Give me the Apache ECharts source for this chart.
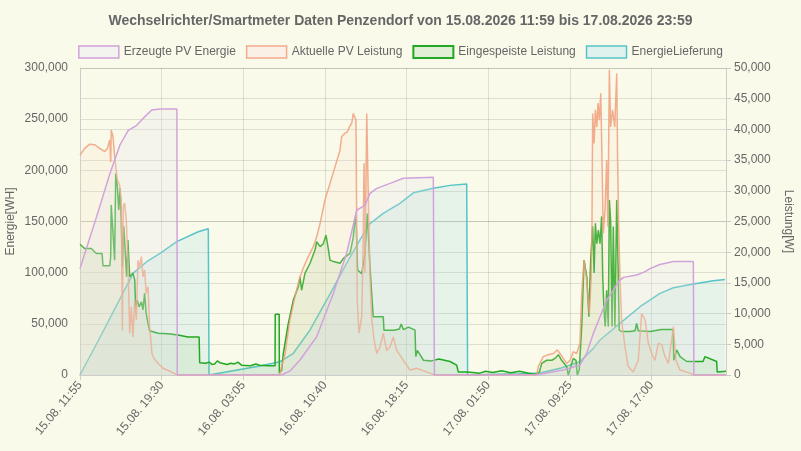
<!DOCTYPE html>
<html>
<head>
<meta charset="utf-8">
<script src="https://cdn.jsdelivr.net/npm/echarts@6/dist/echarts.min.js"></script>
<style>
html,body{margin:0;padding:0;background:#fafaeb;}
#chart{width:801px;height:451px;}
</style>
</head>
<body>
<div id="chart"></div>
<script>
// x values: minutes since 15.08.2026 11:55
const startMinuteOfDay = 11 * 60 + 55;
const startDay = 15;
const totalMinutes = 3600;

const seriesNames = ['Erzeugte PV Energie', 'Aktuelle PV Leistung', 'Eingespeiste Leistung', 'EnergieLieferung'];

// Erzeugte PV Energie [WH] (left axis)
const pvEnergy = [
  [0,104000],[93,155000],[167,197000],[223,225000],[269,239000],[316,244000],[353,251000],[400,259000],[446,260000],[540,260000],[542,0],
  [1124,0],[1170,4000],[1226,14700],[1319,37400],[1412,79800],[1486,119000],[1542,161000],[1588,166000],[1616,177500],[1654,182400],[1728,187300],[1802,192200],[1969,193200],[1975,0],
  [2540,0],[2600,2000],[2692,4900],[2786,9800],[2824,21200],[2861,40700],[2898,57000],[2935,73300],[2972,83000],[3000,91200],[3028,95400],[3102,97700],[3149,101000],[3176,104000],[3232,108000],[3307,111000],[3418,111000],[3421,0],[3600,0]
];

// EnergieLieferung [WH] (left axis)
const energyDelivery = [
  [0,0],[100,33000],[186,62000],[260,87000],[297,99500],[372,110700],[446,118900],[539,130300],[659,140000],[715,143000],[719,0],
  [725,800],[1003,8800],[1115,13000],[1189,21200],[1282,44000],[1375,73300],[1486,109000],[1560,132000],[1616,148000],[1690,158000],[1783,167800],[1858,178000],[1969,182400],[2062,185300],[2155,186600],[2160,0],
  [2165,0],[2450,1200],[2564,2000],[2675,6500],[2786,13000],[2861,26000],[2898,34200],[3009,50500],[3121,66700],[3232,79800],[3307,85300],[3418,88900],[3529,92100],[3594,93400]
];

// Aktuelle PV Leistung [W] (right axis)
const pvPower = [
  [0,35800],[4,36100],[26,36900],[54,37600],[82,37500],[110,36900],[138,36400],[152,36900],[166,38300],[171,34700],[174,39900],[184,38800],[193,35600],[208,31800],[221,30900],[230,28500],[236,7300],[241,27400],[249,28000],[258,25200],[267,18700],[277,6800],[286,11100],[295,6200],[305,12200],[314,9000],[323,18700],[333,17600],[342,19300],[351,16000],[360,17100],[369,13300],[379,14400],[388,7900],[401,3500],[412,2700],[435,1900],[463,1100],[509,500],[542,0],
  [1110,0],[1115,400],[1143,3500],[1170,9000],[1198,12800],[1226,16000],[1244,17400],[1263,18700],[1300,20900],[1319,22500],[1338,24700],[1365,28500],[1393,31200],[1421,33900],[1449,36600],[1458,38800],[1477,39400],[1490,39600],[1501,40400],[1514,41000],[1523,42600],[1533,42600],[1538,41500],[1545,12200],[1555,6800],[1570,9500],[1577,20000],[1583,34500],[1588,16600],[1598,42600],[1607,28500],[1616,16000],[1626,9000],[1640,5500],[1654,3500],[1672,4600],[1690,6800],[1709,4000],[1728,4600],[1746,6200],[1765,4000],[1802,2400],[1839,800],[1876,1100],[1950,300],[1978,0],
  [2545,0],[2554,1400],[2582,3000],[2610,3300],[2638,3500],[2660,4100],[2675,3500],[2693,2700],[2712,1900],[2731,2400],[2749,3800],[2768,3500],[2786,5200],[2796,13300],[2809,18700],[2824,15500],[2838,10000],[2848,15500],[2853,24200],[2857,42600],[2865,37700],[2872,43200],[2880,40400],[2887,44300],[2894,41500],[2902,45900],[2909,35000],[2916,23100],[2926,26900],[2935,35000],[2942,24200],[2950,49700],[2957,40400],[2968,43200],[2980,40400],[2991,49100],[2996,35000],[3002,24200],[3009,16000],[3018,9000],[3037,4600],[3055,1400],[3083,500],[3111,2400],[3130,10000],[3149,9000],[3167,5200],[3186,3500],[3204,2400],[3223,5200],[3242,4900],[3260,3000],[3279,1900],[3307,7900],[3321,2400],[3344,800],[3399,300],[3418,0],[3600,0]
];

// Eingespeiste Leistung [W] (right axis)
const feedIn = [
  [0,21300],[26,20600],[63,20600],[91,19800],[123,19800],[128,17800],[166,17800],[171,19300],[174,27700],[184,23100],[193,18700],[199,32800],[208,30700],[216,26900],[223,30400],[230,25200],[236,17600],[244,24200],[252,24200],[260,16000],[267,22000],[277,16000],[286,16000],[295,16600],[305,15500],[310,10900],[319,12200],[329,11100],[342,11900],[351,10600],[360,13300],[369,10000],[379,8400],[388,7200],[435,6800],[490,6700],[546,6500],[602,6200],[664,6200],[667,2000],
  [700,1900],[720,2100],[735,1700],[750,1800],[765,2300],[780,2000],[820,1700],[840,1900],[860,1800],[880,2100],[900,1600],[950,1500],[980,1800],[1000,1600],[1050,1500],[1087,1500],[1088,9900],[1110,9900],[1111,300],
  [1124,800],[1133,3500],[1161,8400],[1189,12200],[1217,14400],[1226,16000],[1235,13800],[1254,16600],[1282,18200],[1310,20400],[1319,21700],[1338,20900],[1356,21400],[1371,22800],[1384,20500],[1393,18700],[1412,18500],[1449,18200],[1468,19000],[1505,19800],[1523,22500],[1532,25200],[1538,26000],[1547,17100],[1570,16500],[1588,19800],[1601,26300],[1616,17600],[1634,9500],[1690,9500],[1694,7300],[1750,7300],[1780,7500],[1790,8300],[1802,7400],[1830,7800],[1867,7300],[1871,3000],[1880,4000],[1914,2400],[1960,2300],[2000,2600],[2062,2200],[2099,1600],[2108,500],
  [2160,500],[2229,300],[2260,600],[2300,400],[2350,700],[2400,350],[2450,600],[2500,300],[2540,100],[2560,500],
  [2573,1900],[2601,2400],[2630,2400],[2647,2700],[2666,3300],[2684,2400],[2693,2200],[2712,1400],[2721,0],[2731,1000],[2749,2700],[2764,2400],[2771,0],[2782,800],[2796,7900],[2809,18700],[2824,16000],[2836,9500],[2846,18700],[2857,24200],[2865,16600],[2872,24700],[2880,21400],[2889,23600],[2898,21400],[2907,25800],[2913,16000],[2920,10600],[2927,7900],[2935,13800],[2944,7900],[2950,28500],[2957,25200],[2965,7900],[2972,24200],[2981,7900],[2991,28500],[2998,18700],[3005,7300],[3018,7100],[3065,7100],[3093,7200],[3102,8400],[3111,7200],[3176,7100],[3240,7400],[3305,7400],[3309,2400],[3325,4100],[3344,3000],[3381,2200],[3472,2200],[3483,3000],[3548,2200],[3551,500],[3600,600]
];

const xInterval = 455;

function pad(n){ return (n < 10 ? '0' : '') + n; }
function fmtX(v){
  const t = startMinuteOfDay + v;
  const day = startDay + Math.floor(t / 1440);
  const m = t % 1440;
  return pad(day) + '.08. ' + pad(Math.floor(m / 60)) + ':' + pad(m % 60);
}

const txt = '#666';
const gridCol = 'rgba(0,0,0,0.11)';

const colors = {
  pvEnergy:  {line:'#d1a3dc', area:'rgba(228,228,232,0.35)', box:'#f3f3ef'},
  pvPower:   {line:'rgba(240,160,125,0.85)', area:'rgba(252,218,196,0.28)', box:'#fbf0e5'},
  feedIn:    {line:'#22a822', area:'rgba(120,195,100,0.18)', box:'#e1efd6'},
  delivery:  {line:'#55c3c7', area:'rgba(125,212,218,0.22)', box:'#dff2ee'}
};

function mk(name, data, yIdx, c, z){
  return {
    name: name, type: 'line', data: data, yAxisIndex: yIdx,
    showSymbol: false, symbol: 'none', z: z,
    lineStyle: {color: c.line, width: 1.5},
    itemStyle: {color: c.line},
    areaStyle: {color: c.area, origin: 'start'}
  };
}

const chart = echarts.init(document.getElementById('chart'), null, {renderer: 'canvas'});
chart.setOption({
  backgroundColor: '#fafaeb',
  animation: false,
  textStyle: {fontFamily: 'Liberation Sans, Arial, sans-serif'},
  title: {
    text: 'Wechselrichter/Smartmeter Daten Penzendorf von 15.08.2026 11:59 bis 17.08.2026 23:59',
    left: 'center', top: 9,
    textStyle: {color: txt, fontSize: 14, fontWeight: 'bold', fontFamily: 'Liberation Sans, Arial, sans-serif'}
  },
  legend: {
    top: 40, left: 'center', itemWidth: 40, itemHeight: 12, itemGap: 10,
    icon: 'rect',
    textStyle: {color: txt, fontSize: 12},
    data: [
      {name: seriesNames[0], itemStyle: {color: colors.pvEnergy.box, borderColor: colors.pvEnergy.line, borderWidth: 1.5}},
      {name: seriesNames[1], itemStyle: {color: colors.pvPower.box, borderColor: '#f2ab8d', borderWidth: 1.5}},
      {name: seriesNames[2], itemStyle: {color: colors.feedIn.box, borderColor: colors.feedIn.line, borderWidth: 2}},
      {name: seriesNames[3], itemStyle: {color: colors.delivery.box, borderColor: colors.delivery.line, borderWidth: 1.5}}
    ]
  },
  grid: {left: 80, right: 75, top: 68, bottom: 76, containLabel: false, outerBoundsMode: 'none'},
  xAxis: {
    type: 'value', min: 0, max: totalMinutes, interval: xInterval,
    axisLine: {show: true, lineStyle: {color: '#ccc'}},
    axisTick: {show: true, length: 5, lineStyle: {color: '#ccc'}},
    axisLabel: {color: txt, fontSize: 12, rotate: 50, margin: 8, showMaxLabel: false, formatter: fmtX},
    splitLine: {show: true, lineStyle: {color: gridCol}}
  },
  yAxis: [
    {
      type: 'value', min: 0, max: 300000, interval: 50000, position: 'left',
      name: 'Energie[WH]', nameLocation: 'middle', nameGap: 63, nameMoveOverlap: false,
      nameTextStyle: {color: txt, fontSize: 12},
      axisLine: {show: true, lineStyle: {color: '#ccc'}},
      axisTick: {show: false},
      axisLabel: {color: txt, fontSize: 12, margin: 12},
      splitLine: {show: true, lineStyle: {color: gridCol}}
    },
    {
      type: 'value', min: 0, max: 50000, interval: 5000, position: 'right',
      name: 'Leistung[W]', nameLocation: 'middle', nameGap: 56, nameRotate: -90, nameMoveOverlap: false,
      nameTextStyle: {color: txt, fontSize: 12},
      axisLine: {show: true, lineStyle: {color: '#ccc'}},
      axisTick: {show: true, length: 5, lineStyle: {color: '#ccc'}},
      axisLabel: {color: txt, fontSize: 12, margin: 8},
      splitLine: {show: true, lineStyle: {color: gridCol}}
    }
  ],
  series: [
    mk(seriesNames[3], energyDelivery, 0, colors.delivery, 1),
    mk(seriesNames[2], feedIn, 1, colors.feedIn, 2),
    mk(seriesNames[1], pvPower, 1, colors.pvPower, 3),
    mk(seriesNames[0], pvEnergy, 0, colors.pvEnergy, 4)
  ]
});
</script>
</body>
</html>
